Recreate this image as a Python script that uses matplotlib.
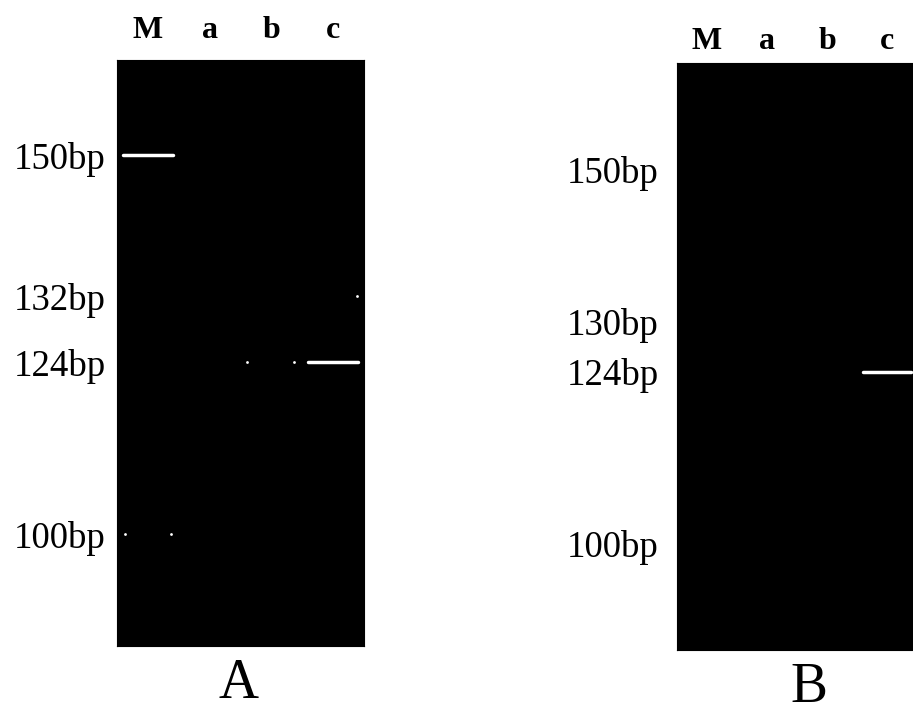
import matplotlib.pyplot as plt
import numpy as np

plt.rcParams['font.family'] = ['Liberation Serif', 'DejaVu Serif']

# lanes of both gels
lanes = ['M', 'a', 'b', 'c']

ladder_a_bp = [150, 132, 124, 100]
ladder_a_mig = [0.163, 0.403, 0.516, 0.809]
bands_a = [('M', 150), ('c', 124)]                    # clear bands
faint_a = [('M', 100, [-0.37, 0.37]),                 # barely visible, only the ends show
           ('b', 124, [-0.40, 0.37]),
           ('c', 132, [0.39])]

# gel B
ladder_b_bp = [150, 130, 124, 100]
ladder_b_mig = [0.182, 0.441, 0.526, 0.818]
bands_b = [('c', 124)]
faint_b = []


def mig(bp, ladder_bp, ladder_mig):
    return np.interp(bp, ladder_bp[::-1], ladder_mig[::-1])


def draw_gel(ax, ladder_bp, ladder_mig, bands, faint, letter, ypad, xpad, letter_x):
    ax.set_facecolor('black')
    for s in ax.spines.values():
        s.set_color('black')
    ax.set_xlim(-0.5, 3.5)
    ax.set_ylim(1, 0)

    for lane, bp in bands:
        x = lanes.index(lane)
        y = mig(bp, ladder_bp, ladder_mig)
        ax.plot([x - 0.4, x + 0.4], [y, y], color='white', lw=2.5,
                solid_capstyle='round')
    for lane, bp, ends in faint:
        x = lanes.index(lane)
        y = mig(bp, ladder_bp, ladder_mig)
        ax.scatter([x + e for e in ends], [y] * len(ends), s=4, color='white',
                   linewidths=0)

    ax.set_xticks(range(len(lanes)))
    ax.set_xticklabels(lanes, fontsize=23, fontweight='bold')
    ax.xaxis.tick_top()
    ax.tick_params(axis='x', length=0, pad=xpad)

    ax.set_yticks(ladder_mig)
    ax.set_yticklabels([f'{b}bp' for b in ladder_bp], fontsize=26.5)
    ax.tick_params(axis='y', length=0, pad=ypad)

    ax.set_xlabel(letter, fontsize=40, labelpad=9)
    ax.xaxis.label.set_x(letter_x)


fig = plt.figure(figsize=(9.13, 7.02), dpi=100)
ax_a = fig.add_axes([0.1282, 0.0798, 0.2705, 0.8348])
ax_b = fig.add_axes([0.7415, 0.0741, 0.2629, 0.8362])

draw_gel(ax_a, ladder_a_bp, ladder_a_mig, bands_a, faint_a, 'A', 8, 11, 0.49)
draw_gel(ax_b, ladder_b_bp, ladder_b_mig, bands_b, faint_b, 'B', 13, 5, 0.55)

fig.savefig('out.png', dpi=100, facecolor='white')
